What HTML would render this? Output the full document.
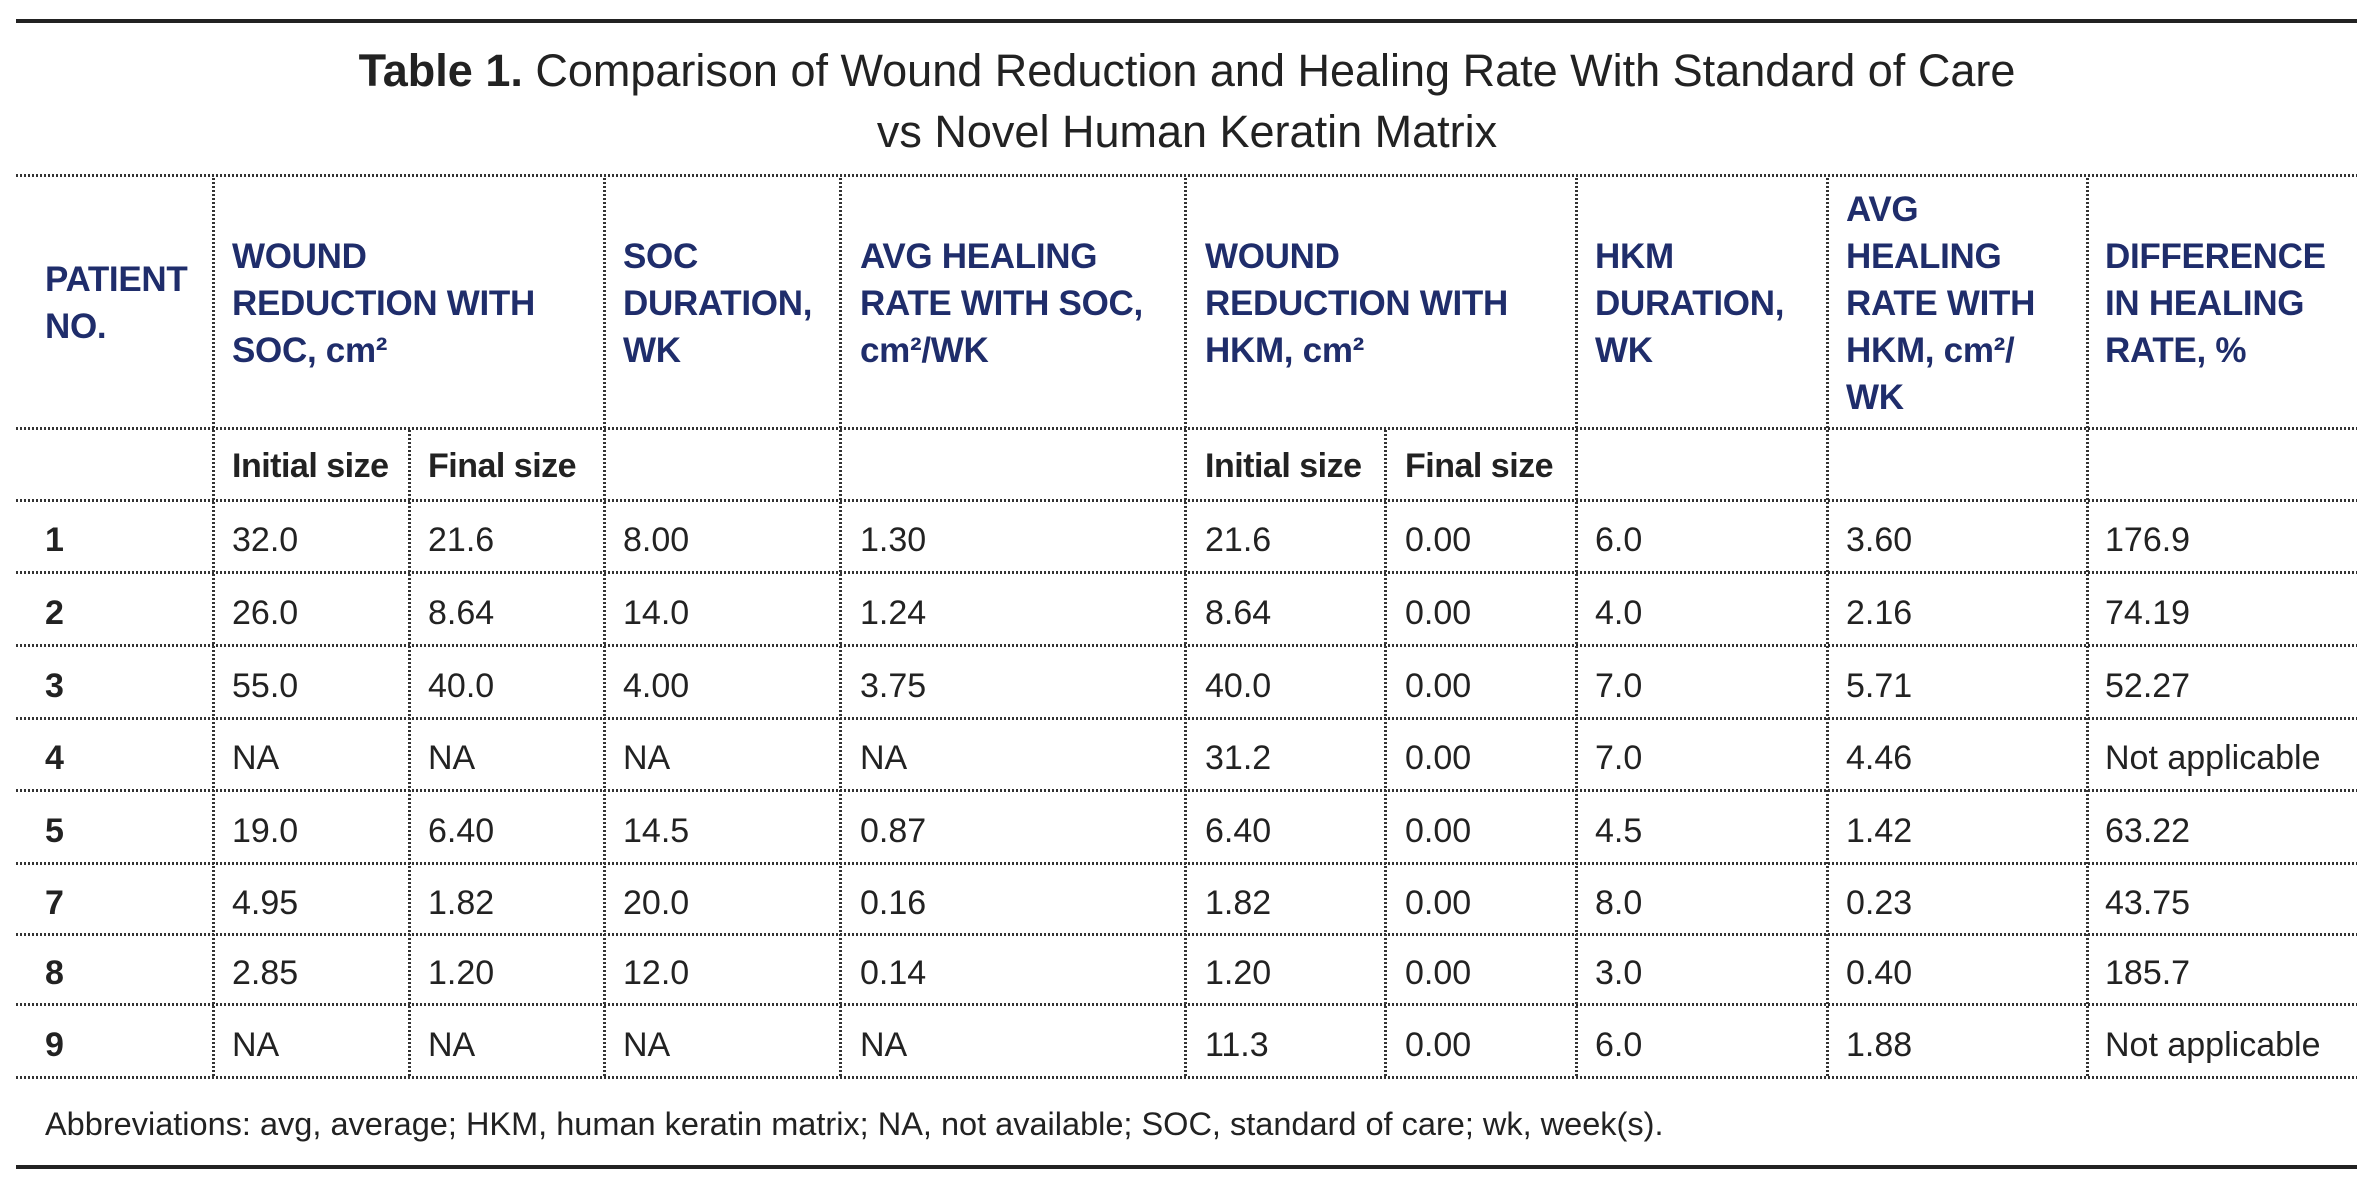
<!DOCTYPE html>
<html><head><meta charset="utf-8"><style>
body{margin:0;width:2374px;height:1190px;background:#fff;position:relative;overflow:hidden;font-family:"Liberation Sans",sans-serif;}
.a{position:absolute;}
.h{position:absolute;background-image:linear-gradient(to right,#333 50%,transparent 50%);background-size:4px 3px;height:3px;}
.v{position:absolute;background-image:linear-gradient(to bottom,#333 50%,transparent 50%);background-size:3px 4px;width:3px;}
.hd{position:absolute;display:flex;flex-direction:column;justify-content:center;color:#1f2d6b;font-weight:bold;font-size:35px;line-height:47px;letter-spacing:-0.3px;white-space:nowrap;}
.t{position:absolute;font-size:34px;color:#222;white-space:nowrap;line-height:40px;}
.b{font-weight:bold;}
.s{font-weight:bold;font-size:34px;color:#222;letter-spacing:-0.5px;}
</style></head><body>
<div class="a" style="left:16px;top:19px;width:2341px;height:4px;background:#222"></div>
<div class="a" style="left:0;width:2374px;top:40px;text-align:center;font-size:45px;line-height:61px;color:#222"><b>Table 1.</b> Comparison of Wound Reduction and Healing Rate With Standard of Care<br>vs Novel Human Keratin Matrix</div>

<div class="h" style="left:16px;width:2341px;top:174px"></div>
<div class="h" style="left:16px;width:2341px;top:427px"></div>
<div class="h" style="left:16px;width:2341px;top:499px"></div>
<div class="h" style="left:16px;width:2341px;top:571px"></div>
<div class="h" style="left:16px;width:2341px;top:644px"></div>
<div class="h" style="left:16px;width:2341px;top:717px"></div>
<div class="h" style="left:16px;width:2341px;top:789px"></div>
<div class="h" style="left:16px;width:2341px;top:862px"></div>
<div class="h" style="left:16px;width:2341px;top:933px"></div>
<div class="h" style="left:16px;width:2341px;top:1003px"></div>
<div class="h" style="left:16px;width:2341px;top:1076px"></div>
<div class="a" style="left:16px;top:1165px;width:2341px;height:4px;background:#222"></div>

<div class="v" style="left:212px;top:178px;height:898px"></div>
<div class="v" style="left:408px;top:430px;height:646px"></div>
<div class="v" style="left:603px;top:178px;height:898px"></div>
<div class="v" style="left:839px;top:178px;height:898px"></div>
<div class="v" style="left:1184px;top:178px;height:898px"></div>
<div class="v" style="left:1384px;top:430px;height:646px"></div>
<div class="v" style="left:1575px;top:178px;height:898px"></div>
<div class="v" style="left:1826px;top:178px;height:898px"></div>
<div class="v" style="left:2086px;top:178px;height:898px"></div>

<div class="hd" style="left:45px;top:178px;height:250px">PATIENT<br>NO.</div>
<div class="hd" style="left:232px;top:178px;height:250px">WOUND<br>REDUCTION WITH<br>SOC, cm²</div>
<div class="hd" style="left:623px;top:178px;height:250px">SOC<br>DURATION,<br>WK</div>
<div class="hd" style="left:860px;top:178px;height:250px">AVG HEALING<br>RATE WITH SOC,<br>cm²/WK</div>
<div class="hd" style="left:1205px;top:178px;height:250px">WOUND<br>REDUCTION WITH<br>HKM, cm²</div>
<div class="hd" style="left:1595px;top:178px;height:250px">HKM<br>DURATION,<br>WK</div>
<div class="hd" style="left:1846px;top:178px;height:250px">AVG<br>HEALING<br>RATE WITH<br>HKM, cm²/<br>WK</div>
<div class="hd" style="left:2105px;top:178px;height:250px">DIFFERENCE<br>IN HEALING<br>RATE, %</div>

<div class="t s" style="left:232px;top:446px">Initial size</div>
<div class="t s" style="left:428px;top:446px">Final size</div>
<div class="t s" style="left:1205px;top:446px">Initial size</div>
<div class="t s" style="left:1405px;top:446px">Final size</div>

<div id="rows"></div>
<script>
(function(){
var d=[["1","32.0","21.6","8.00","1.30","21.6","0.00","6.0","3.60","176.9"],
["2","26.0","8.64","14.0","1.24","8.64","0.00","4.0","2.16","74.19"],
["3","55.0","40.0","4.00","3.75","40.0","0.00","7.0","5.71","52.27"],
["4","NA","NA","NA","NA","31.2","0.00","7.0","4.46","Not applicable"],
["5","19.0","6.40","14.5","0.87","6.40","0.00","4.5","1.42","63.22"],
["7","4.95","1.82","20.0","0.16","1.82","0.00","8.0","0.23","43.75"],
["8","2.85","1.20","12.0","0.14","1.20","0.00","3.0","0.40","185.7"],
["9","NA","NA","NA","NA","11.3","0.00","6.0","1.88","Not applicable"]];
var xs=[45,232,428,623,860,1205,1405,1595,1846,2105];
var ys=[500,572,645,718,790,863,934,1004];
var ye=[572,645,718,790,863,934,1004,1077];
var h="";
for(var i=0;i<8;i++){var yy=(ys[i]+ye[i])/2-20+4;
for(var j=0;j<10;j++){h+='<div class="t'+(j==0?' b':'')+'" style="left:'+xs[j]+'px;top:'+yy+'px">'+d[i][j]+'</div>';}}
document.getElementById("rows").innerHTML=h;
})();
</script>
<div class="a" style="left:45px;top:1106px;font-size:32.5px;color:#222;white-space:nowrap;line-height:36px">Abbreviations: avg, average; HKM, human keratin matrix; NA, not available; SOC, standard of care; wk, week(s).</div>
</body></html>
